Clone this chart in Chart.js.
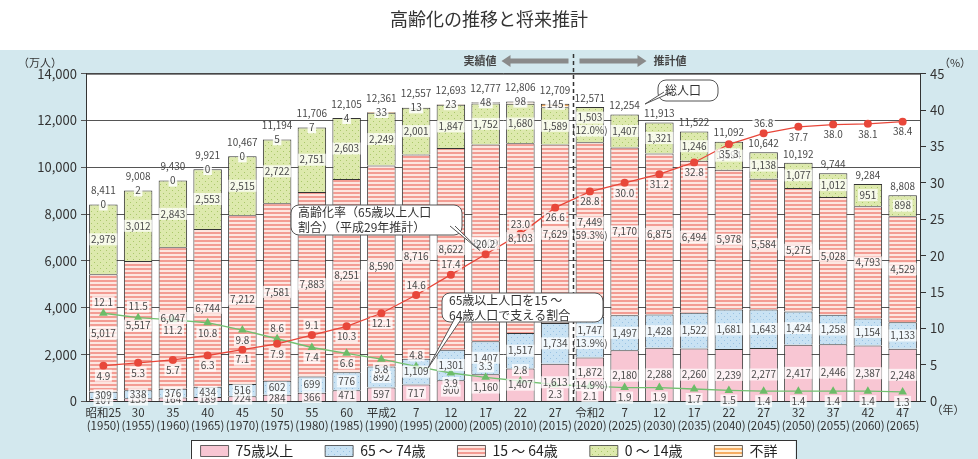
<!DOCTYPE html>
<html><head><meta charset="utf-8">
<script src="https://cdn.jsdelivr.net/npm/chart.js@4.4.0/dist/chart.umd.min.js"></script>
<style>html,body{margin:0;padding:0;background:#fff;}#wrap{width:978px;height:459px;}</style>
</head><body><div id="wrap"><canvas id="c" width="978" height="459"></canvas></div>
<script>
// ---------- DATA ----------
const eras = ['昭和25','30','35','40','45','50','55','60','平成2','7','12','17','22','27','令和2','7','12','17','22','27','32','37','42','47'];
const years = [1950,1955,1960,1965,1970,1975,1980,1985,1990,1995,2000,2005,2010,2015,2020,2025,2030,2035,2040,2045,2050,2055,2060,2065];
const totalPop = [8411,9008,9430,9921,10467,11194,11706,12105,12361,12557,12693,12777,12806,12709,12571,12254,11913,11522,11092,10642,10192,9744,9284,8808];
const age75plus = [107,139,164,189,224,284,366,471,597,717,900,1160,1407,1613,1872,2180,2288,2260,2239,2277,2417,2446,2387,2248];
const age65to74 = [309,338,376,434,516,602,699,776,892,1109,1301,1407,1517,1734,1747,1497,1428,1522,1681,1643,1424,1258,1154,1133];
const age15to64 = [5017,5517,6047,6744,7212,7581,7883,8251,8590,8716,8622,8409,8103,7629,7449,7170,6875,6494,5978,5584,5275,5028,4793,4529];
const age0to14 = [2979,3012,2843,2553,2515,2722,2751,2603,2249,2001,1847,1752,1680,1589,1503,1407,1321,1246,1194,1138,1077,1012,951,898];
const unknownAge = [0,2,0,0,0,5,7,4,33,13,23,48,98,145,null,null,null,null,null,null,null,null,null,null];
const agingRate = [4.9,5.3,5.7,6.3,7.1,7.9,9.1,10.3,12.1,14.6,17.4,20.2,23.0,26.6,28.8,30.0,31.2,32.8,35.3,36.8,37.7,38.0,38.1,38.4];
const supportRatio = [12.1,11.5,11.2,10.8,9.8,8.6,7.4,6.6,5.8,4.8,3.9,3.3,2.8,2.3,2.1,1.9,1.9,1.7,1.5,1.4,1.4,1.4,1.4,1.3];
const leftTicks = [0,2000,4000,6000,8000,10000,12000,14000];
const rightTicks = [0,5,10,15,20,25,30,35,40,45];
const seriesNames = ['75歳以上','65 ～ 74歳','15 ～ 64歳','0 ～ 14歳','不詳'];
const detailYear = 2020;

// ---------- STYLE ----------
const FONT = '"Noto Sans CJK JP", "Noto Sans", sans-serif';
function tile(w,h,draw){const c=document.createElement('canvas');c.width=w;c.height=h;const x=c.getContext('2d');draw(x);return document.getElementById('c').getContext('2d').createPattern(c,'repeat');}
const pPink = '#f8c6d3';
const pBlue = tile(6,6,x=>{x.fillStyle='#c9e2f3';x.fillRect(0,0,6,6);x.fillStyle='#98c2e3';x.fillRect(1,1,1,1);x.fillRect(4,4,1,1);});
const pSalmon = tile(4,4,x=>{x.fillStyle='#f39c93';x.fillRect(0,0,4,4);x.fillStyle='#fde6e0';x.fillRect(0,2,4,2);});
const pGreen = tile(6,6,x=>{x.fillStyle='#dde9ad';x.fillRect(0,0,6,6);x.fillStyle='#aac86a';x.fillRect(1,1,1,1);x.fillRect(4,4,1,1);});
const pOrange = tile(4,4,x=>{x.fillStyle='#f5ad62';x.fillRect(0,0,4,4);x.fillStyle='#fff1dc';x.fillRect(0,2,4,2);});

const labels = eras.map((e,i)=>[e,'('+years[i]+')']);
function fmt(v){return Number(v).toLocaleString('en-US');}

function barDs(label,data,bg,key){
  return {type:'bar',label,data,backgroundColor:bg,borderColor:'#333',borderWidth:{top:1,left:1,right:1,bottom:0},borderSkipped:false,
    stack:'pop',yAxisID:'y',order:2,categoryPercentage:0.82,barPercentage:1,_key:key};
}

const datasets = [
  barDs(seriesNames[0],age75plus,pPink,'a75'),
  barDs(seriesNames[1],age65to74,pBlue,'a65'),
  barDs(seriesNames[2],age15to64,pSalmon,'a15'),
  barDs(seriesNames[3],age0to14,pGreen,'a0'),
  barDs(seriesNames[4],unknownAge,pOrange,'unk'),
  {type:'line',label:'高齢化率',data:agingRate,yAxisID:'y2',borderColor:'#e8473a',backgroundColor:'#e8473a',borderWidth:1.3,
    pointStyle:'circle',pointRadius:4,pointBorderWidth:0,order:1,_key:'rate'},
  {type:'line',label:'支える割合',data:supportRatio,yAxisID:'y2',borderColor:'#72c070',backgroundColor:'#6cbc68',borderWidth:1.3,
    pointStyle:'triangle',pointRadius:5,pointBorderWidth:0,order:1,_key:'sup'}
];

function tag(ctx,text,x,y,size,bg){
  ctx.font = size+'px '+FONT;
  const w = ctx.measureText(text).width;
  if(bg){ctx.fillStyle=bg;ctx.fillRect(x-w/2-1.5,y-size/2-1,w+3,size+2);}
  ctx.fillStyle='#4a4a4a';ctx.textAlign='center';ctx.textBaseline='middle';
  ctx.fillText(text,x,y);
}

const bgPlugin = {
  id:'bgPlugin',
  beforeDraw(chart){
    const {ctx,chartArea:a} = chart;
    ctx.save();
    ctx.fillStyle='#fff';ctx.fillRect(0,0,chart.width,chart.height);
    ctx.fillStyle='#d3e8ee';ctx.fillRect(0,50,chart.width,chart.height-50);
    ctx.fillStyle='#fff';ctx.fillRect(a.left,a.top,a.right-a.left,a.bottom-a.top);
    const lg = chart.legend;
    if(lg && lg.legendHitBoxes && lg.legendHitBoxes.length){
      const hb = lg.legendHitBoxes;
      const x0 = Math.min(...hb.map(h=>h.left))-10, x1 = Math.max(...hb.map(h=>h.left+h.width))+18;
      const y0 = Math.min(...hb.map(h=>h.top))-4;
      ctx.fillStyle='#fff';ctx.fillRect(x0,y0,x1-x0,chart.height-y0+4);
      ctx.strokeStyle='#333';ctx.lineWidth=1;ctx.strokeRect(Math.round(x0)+0.5,Math.round(y0)+0.5,Math.round(x1-x0),chart.height-y0+4);
    }
    ctx.restore();
  },
  afterDraw(chart){
    const {ctx,chartArea:a,scales} = chart;
    ctx.save();
    ctx.strokeStyle='#333';ctx.lineWidth=1;
    ctx.beginPath();ctx.moveTo(a.left,a.top+0.5);ctx.lineTo(a.right,a.top+0.5);ctx.stroke();
    const xs = scales.x;
    const di = years.indexOf(detailYear);
    const xd = Math.round((xs.getPixelForValue(di-1)+xs.getPixelForValue(di))/2)+0.5;
    ctx.setLineDash([4,3]);ctx.lineWidth=1.5;ctx.strokeStyle='#333';
    ctx.beginPath();ctx.moveTo(xd,54);ctx.lineTo(xd,a.bottom);ctx.stroke();ctx.setLineDash([]);
    const ay = 61;
    ctx.fillStyle='#8a8a8a';
    function arrow(xTail,xTip){
      const dir = Math.sign(xTip-xTail);
      ctx.beginPath();
      ctx.moveTo(xTail,ay-2.5);ctx.lineTo(xTip-dir*9,ay-2.5);ctx.lineTo(xTip-dir*9,ay-6);ctx.lineTo(xTip,ay);
      ctx.lineTo(xTip-dir*9,ay+6);ctx.lineTo(xTip-dir*9,ay+2.5);ctx.lineTo(xTail,ay+2.5);ctx.closePath();ctx.fill();
    }
    arrow(xd-5,xd-72);arrow(xd+6,xd+73);
    ctx.font='bold 11px '+FONT;ctx.fillStyle='#444';ctx.textBaseline='middle';
    ctx.textAlign='right';ctx.fillText('実績値',xd-77,ay);
    ctx.textAlign='left';ctx.fillText('推計値',xd+80,ay);
    ctx.font='11px '+FONT;ctx.fillStyle='#333';ctx.textAlign='center';
    ctx.fillText('（万人）',40,63);
    ctx.fillText('（%）',955,63);
    ctx.fillText('（年）',948,410);

    function callout(x,y,w,h,lines,tipX,tipY,baseX1,baseX2,baseY){
      ctx.fillStyle='#fff';ctx.strokeStyle='#555';ctx.lineWidth=1;
      ctx.beginPath();
      const r=8;
      ctx.moveTo(x+r,y);ctx.lineTo(x+w-r,y);ctx.arcTo(x+w,y,x+w,y+r,r);ctx.lineTo(x+w,y+h-r);ctx.arcTo(x+w,y+h,x+w-r,y+h,r);
      ctx.lineTo(x+r,y+h);ctx.arcTo(x,y+h,x,y+h-r,r);ctx.lineTo(x,y+r);ctx.arcTo(x,y,x+r,y,r);ctx.closePath();
      ctx.fill();ctx.stroke();
      ctx.beginPath();ctx.moveTo(baseX1,baseY);ctx.lineTo(tipX,tipY);ctx.lineTo(baseX2,baseY);ctx.closePath();ctx.fill();
      ctx.beginPath();ctx.moveTo(baseX1,baseY);ctx.lineTo(tipX,tipY);ctx.lineTo(baseX2,baseY);ctx.stroke();
      ctx.fillStyle='#333';ctx.font='12px '+FONT;ctx.textAlign='left';ctx.textBaseline='middle';
      lines.forEach((t,i)=>ctx.fillText(t,x+7,y+h/2+(i-(lines.length-1)/2)*15));
    }
    callout(658,80,60,21,['総人口'],645,104,664,672,92);
    const ry = scales.y2;
    const rI = 11;
    callout(291,205,171,30,['高齢化率（65歳以上人口','割合）（平成29年推計）'],xs.getPixelForValue(rI)-6,ry.getPixelForValue(agingRate[rI])-4,450,455,226);
    callout(442,293,161,29,['65歳以上人口を15 ～','64歳人口で支える割合'],428,368,455,462,318);
    ctx.restore();
  },
  afterDatasetsDraw(chart){
    const {ctx} = chart;
    ctx.save();
    const metas = chart.data.datasets.map((d,i)=>chart.getDatasetMeta(i));
    const byKey = k=>chart.data.datasets.findIndex(d=>d._key===k);
    const di = years.indexOf(detailYear);
    ['a75','a65','a15','a0'].forEach(k=>{
      const idx = byKey(k); const ds = chart.data.datasets[idx];
      metas[idx].data.forEach((el,i)=>{
        const v = ds.data[i]; if(v==null) return;
        let cy = (el.y+el.base)/2;
        if(i===di){
          const pct = '('+(v/totalPop[i]*100).toFixed(1)+'%)';
          tag(ctx,fmt(v),el.x,cy-7,10,'rgba(255,255,255,0.75)');
          tag(ctx,pct,el.x,cy+6,10,'rgba(255,255,255,0.75)');
        } else {
          tag(ctx,fmt(v),el.x,cy,10,'rgba(255,255,255,0.75)');
        }
      });
    });
    const ui = byKey('unk');
    metas[ui].data.forEach((el,i)=>{const v=unknownAge[i]; if(v==null) return; tag(ctx,fmt(v),el.x,el.y,10,'rgba(255,255,255,0.85)');});
    const topMeta = i=>{let y=Infinity;['a75','a65','a15','a0','unk'].forEach(k=>{const el=metas[byKey(k)].data[i];if(el&&chart.data.datasets[byKey(k)].data[i]!=null)y=Math.min(y,el.y);});return y;};
    totalPop.forEach((v,i)=>{const el=metas[0].data[i];tag(ctx,fmt(v),el.x,topMeta(i)-(unknownAge[i]!=null?14:9),10,null);});
    const rateAbove = [6,9,10,11,12,19];
    const supAbove = [0,1,5,9,11,12];
    const ri = byKey('rate'), si = byKey('sup');
    metas[ri].data.forEach((el,i)=>{tag(ctx,agingRate[i].toFixed(1),el.x,el.y+(rateAbove.includes(i)?-10:10),10,'rgba(255,255,255,0.75)');});
    metas[si].data.forEach((el,i)=>{tag(ctx,supportRatio[i].toFixed(1),el.x,el.y+(supAbove.includes(i)?-11:10),10,'rgba(255,255,255,0.75)');});
    ctx.restore();
  }
};

Chart.defaults.font.family = FONT;
const defaultLegendLabels = Chart.defaults.plugins.legend.labels.generateLabels;
new Chart(document.getElementById('c'),{
  data:{labels,datasets},
  options:{
    responsive:false,animation:false,
    layout:{padding:{top:0,left:0,right:0,bottom:-9}},
    plugins:{
      title:{display:true,text:'高齢化の推移と将来推計',color:'#333',font:{size:18,weight:'normal',family:FONT},padding:{top:8,bottom:44}},
      legend:{position:'bottom',
        labels:{filter:(it,d)=>d.datasets[it.datasetIndex].type==='bar',boxWidth:28,boxHeight:11,color:'#222',font:{size:14,family:FONT},padding:4,
          generateLabels(chart){
            const items = defaultLegendLabels(chart).filter(it=>chart.data.datasets[it.datasetIndex].type==='bar');
            items.forEach((it,i)=>{ if(i<items.length-1) it.text = it.text+'\u3000\u3000'; });
            return items;
          }}
      },
      tooltip:{enabled:false}
    },
    scales:{
      x:{stacked:true,grid:{display:false,drawTicks:false},border:{color:'#333'},
        ticks:{color:'#333',font:{size:11.5,family:FONT},maxRotation:0,autoSkip:false,padding:4},
        afterFit(s){s.height=38.6;}},
      y:{position:'left',stacked:true,min:0,max:14000,
        afterBuildTicks(s){s.ticks=leftTicks.map(v=>({value:v}));},
        ticks:{color:'#333',font:{size:13,family:FONT},callback:v=>fmt(v),padding:4},
        grid:{color:'#555',tickLength:5},border:{color:'#333'},
        afterFit(s){s.width=86;}},
      y2:{position:'right',stacked:false,min:0,max:45,
        afterBuildTicks(s){s.ticks=rightTicks.map(v=>({value:v}));},
        ticks:{color:'#333',font:{size:13,family:FONT},padding:4},
        grid:{drawOnChartArea:false,color:'#333',tickLength:6},border:{color:'#333'},
        afterFit(s){s.width=58;}}
    }
  },
  plugins:[bgPlugin]
});
</script></body></html>
